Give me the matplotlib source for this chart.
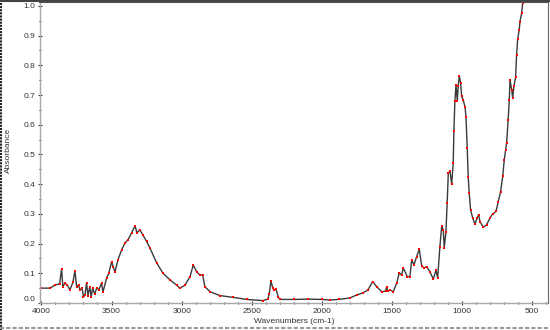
import matplotlib
matplotlib.use("Agg")
import matplotlib.pyplot as plt
from matplotlib.ticker import MultipleLocator
from matplotlib.lines import Line2D

# IR spectrum: wavenumber (cm-1) and absorbance
wavenumbers = [
    4000, 3939, 3904, 3870, 3856, 3847, 3832, 3815, 3797, 3775, 3761, 3749,
    3735, 3725, 3710, 3700, 3690, 3678, 3668, 3655, 3645, 3635, 3620, 3606,
    3590, 3571, 3561, 3535, 3520, 3499, 3487, 3475, 3454, 3428, 3404, 3383,
    3357, 3332, 3319, 3298, 3276, 3250, 3226, 3178, 3133, 3083, 3036, 3012,
    2976, 2940, 2917, 2893, 2869, 2850, 2834, 2798, 2727, 2634, 2536, 2420,
    2385, 2375, 2363, 2350, 2340, 2327, 2310, 2299, 2200, 2100, 2000, 1942,
    1880, 1800, 1752, 1707, 1671, 1638, 1609, 1573, 1545, 1538, 1530, 1514,
    1491, 1466, 1448, 1431, 1419, 1391, 1372, 1359, 1343, 1324, 1305, 1288,
    1272, 1252, 1229, 1205, 1186, 1174, 1158, 1145, 1134, 1127, 1115, 1106,
    1098, 1086, 1074, 1063, 1058, 1051, 1043, 1034, 1027, 1020, 1010, 1003,
    992, 979, 972, 963, 956, 949, 939, 924, 908, 892, 882, 872,
    849, 825, 801, 782, 758, 742, 725, 710, 699, 689, 682, 671,
    663, 658, 646, 639, 630, 618, 611, 603, 592, 587, 575, 568, 555,
]
absorbance = [
    0.050, 0.050, 0.060, 0.065, 0.115, 0.055, 0.067, 0.060, 0.044, 0.070, 0.108, 0.055,
    0.060, 0.044, 0.050, 0.020, 0.027, 0.067, 0.025, 0.055, 0.020, 0.050, 0.030, 0.050,
    0.045, 0.067, 0.037, 0.084, 0.100, 0.139, 0.120, 0.105, 0.145, 0.179, 0.202, 0.212,
    0.236, 0.260, 0.236, 0.246, 0.229, 0.207, 0.185, 0.135, 0.100, 0.078, 0.060, 0.050,
    0.060, 0.089, 0.128, 0.105, 0.094, 0.094, 0.055, 0.038, 0.025, 0.019, 0.012, 0.008,
    0.013, 0.030, 0.074, 0.050, 0.045, 0.046, 0.020, 0.012, 0.012, 0.013, 0.012, 0.010,
    0.012, 0.017, 0.027, 0.034, 0.044, 0.072, 0.055, 0.038, 0.040, 0.055, 0.040, 0.044,
    0.038, 0.067, 0.101, 0.094, 0.118, 0.089, 0.089, 0.145, 0.128, 0.156, 0.181, 0.125,
    0.118, 0.122, 0.105, 0.080, 0.111, 0.084, 0.190, 0.260, 0.245, 0.185, 0.240, 0.337,
    0.438, 0.443, 0.400, 0.470, 0.580, 0.680, 0.735, 0.680, 0.730, 0.765, 0.740, 0.695,
    0.684, 0.660, 0.627, 0.520, 0.425, 0.370, 0.313, 0.286, 0.266, 0.286, 0.297, 0.274,
    0.255, 0.263, 0.286, 0.300, 0.308, 0.341, 0.375, 0.426, 0.482, 0.516, 0.540, 0.617,
    0.684, 0.750, 0.718, 0.690, 0.730, 0.760, 0.835, 0.890, 0.920, 0.947, 0.976, 1.010, 1.060,
]

x_ticks = [4000, 3500, 3000, 2500, 2000, 1500, 1000, 500]
y_ticks = [0.0, 0.1, 0.2, 0.3, 0.4, 0.5, 0.6, 0.7, 0.8, 0.9, 1.0]

plt.rcParams['font.family'] = ['Liberation Sans', 'DejaVu Sans']

fig = plt.figure(figsize=(5.5, 3.3), dpi=100)
ax = fig.add_axes([40 / 550, 1 - 303 / 330, 508 / 550, 301 / 330])

ax.plot(wavenumbers, absorbance, color="#3a3a3a", linewidth=1.0)
ax.plot(wavenumbers, absorbance, linestyle="none", marker="s", markersize=1.6,
        color="red", markeredgewidth=0)

ax.set_xlim(4010, 387)
ax.set_ylim(0.0, 1.013)
ax.set_xticks(x_ticks)
ax.set_yticks(y_ticks)
ax.set_yticklabels([f"{v:.1f}" for v in y_ticks])
ax.xaxis.set_minor_locator(MultipleLocator(100))
ax.yaxis.set_minor_locator(MultipleLocator(0.05))

ax.tick_params(which="both", direction="inout", colors="#333333", labelsize=6,
               pad=2, width=0.8)
ax.tick_params(which="major", length=3)
ax.tick_params(which="minor", length=2)

for side in ["left", "bottom"]:
    ax.spines[side].set_color("#a8a8a8")
    ax.spines[side].set_linestyle((0, (2, 1)))
    ax.spines[side].set_linewidth(1)
ax.spines["top"].set_color("#555555")
ax.spines["right"].set_color("#666666")
ax.spines["top"].set_linewidth(1.5)

# first y label sits a little above the axis line
ax.get_yticklabels()[0].set_va("bottom")

ax.set_xlabel("Wavenumbers (cm-1)", fontsize=6, color="#333333", labelpad=2)
fig.text(8 / 550, 1 - 150 / 330, "Absorbance", rotation=90, fontsize=6,
         color="#333333", ha="center", va="center")

# window frame
fig.add_artist(Line2D([0.001, 0.001], [0, 1], color="#222222", linewidth=1.5,
                      linestyle=(0, (1, 0.5)), transform=fig.transFigure))
fig.add_artist(Line2D([0, 1], [0.998, 0.998], color="#444444", linewidth=1.5,
                      transform=fig.transFigure))
fig.add_artist(Line2D([0, 1], [0.006, 0.006], color="#999999", linewidth=1.5,
                      linestyle=(0, (2, 1)), transform=fig.transFigure))

fig.savefig("out.png", dpi=100)
